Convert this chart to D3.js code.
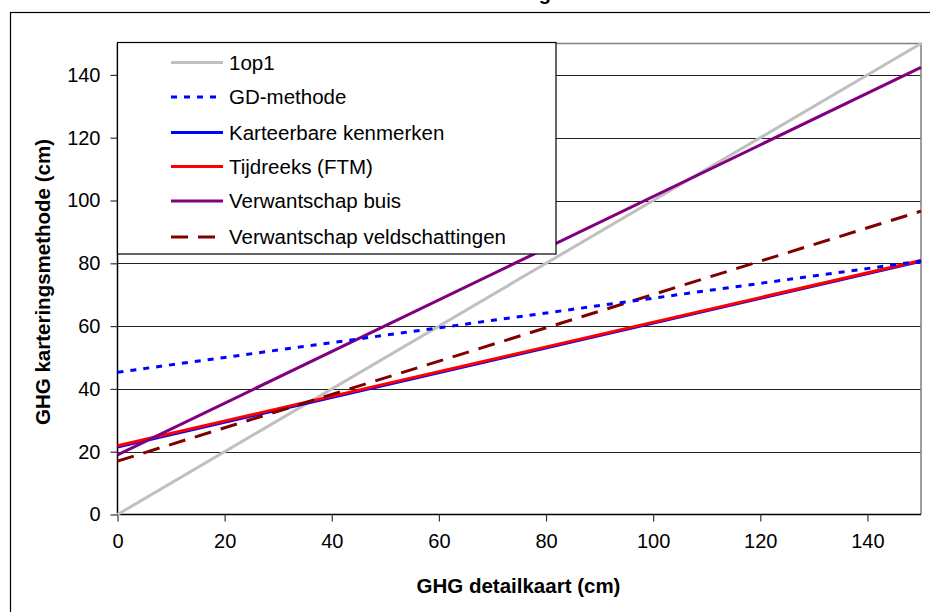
<!DOCTYPE html>
<html>
<head>
<meta charset="utf-8">
<script src="https://cdn.jsdelivr.net/npm/d3@7"></script>
<style>
  html, body { margin: 0; padding: 0; background: #fff; }
  svg { display: block; font-family: Arial, "Liberation Sans", sans-serif; }
</style>
</head>
<body>
<svg id="chart" width="930" height="612"></svg>
<script>
// Series: start and end points (GHG detailkaart, GHG karteringsmethode) in cm
const seriesNames = ["1op1", "GD-methode", "Karteerbare kenmerken", "Tijdreeks (FTM)", "Verwantschap buis", "Verwantschap veldschattingen"];
const seriesX = [0, 150];
const oneToOne = [0, 150];
const gdMethode = [45.3, 80.7];
const karteerbare = [21.4, 80.6];
const tijdreeks = [21.9, 80.9];
const verwantschapBuis = [19.0, 142.4];
const verwantschapVeld = [17.0, 96.6];
const xTicks = [0, 20, 40, 60, 80, 100, 120, 140];
const yTicks = [0, 20, 40, 60, 80, 100, 120, 140];

const styles = [
  { color: "#C0C0C0", dash: null },
  { color: "#0000FF", dash: "6,7" },
  { color: "#0000FF", dash: null },
  { color: "#FF0000", dash: null },
  { color: "#800080", dash: null },
  { color: "#800000", dash: "17,10" }
];
const seriesValues = [oneToOne, gdMethode, karteerbare, tijdreeks, verwantschapBuis, verwantschapVeld];

const svg = d3.select("#chart");
const plot = { left: 117.5, top: 43.5, right: 921, bottom: 514.5 };

const x = d3.scaleLinear().domain([0, 150]).range([plot.left, plot.right]);
const y = d3.scaleLinear().domain([0, 150]).range([plot.bottom, plot.top]);

// Outer chart frame (runs off the page on the right and bottom)
svg.append("rect")
  .attr("x", 10.5).attr("y", 12.5)
  .attr("width", 940).attr("height", 620)
  .attr("fill", "none").attr("stroke", "#000").attr("stroke-width", 1.2);

// Title, sitting above the top edge of the page
svg.append("text")
  .attr("x", 551).attr("y", -0.5)
  .attr("text-anchor", "end")
  .attr("font-weight", "bold").attr("font-size", 20)
  .text("GHG-schatting");

// Horizontal gridlines
svg.append("g")
  .selectAll("line")
  .data(yTicks.filter(d => d > 0))
  .join("line")
  .attr("x1", plot.left).attr("x2", plot.right)
  .attr("y1", d => Math.round(y(d)) + 0.5).attr("y2", d => Math.round(y(d)) + 0.5)
  .attr("stroke", "#222").attr("stroke-width", 1);

// Plot area border (top and right)
svg.append("path")
  .attr("d", `M${plot.left},${plot.top}H${plot.right}V${plot.bottom}`)
  .attr("fill", "none").attr("stroke", "#808080").attr("stroke-width", 1.5);

// Axes
const yAxis = d3.axisLeft(y).tickValues(yTicks).tickSize(7).tickPadding(10).tickFormat(d3.format("d"));
const xAxis = d3.axisBottom(x).tickValues(xTicks).tickSize(7).tickPadding(12).tickFormat(d3.format("d"));

const gy = svg.append("g").attr("transform", `translate(${plot.left},0)`).call(yAxis);
const gx = svg.append("g").attr("transform", `translate(0,${plot.bottom})`).call(xAxis);
[gx, gy].forEach(g => {
  g.select(".domain").attr("stroke", "#000").attr("stroke-width", 1.5);
  g.selectAll(".tick line").attr("stroke", "#333").attr("stroke-width", 1.2);
  g.selectAll(".tick text").attr("font-size", 20).attr("fill", "#000")
    .attr("font-family", "Arial, 'Liberation Sans', sans-serif");
});
gy.select(".domain").attr("d", `M0,${plot.top}V${plot.bottom}`);
gx.select(".domain").attr("d", `M${plot.left},0H${plot.right}`);

// Series lines
const line = d3.line().x(d => x(d[0])).y(d => y(d[1]));
const order = [0, 2, 3, 4, 5, 1];
svg.append("g")
  .selectAll("path")
  .data(order)
  .join("path")
  .attr("d", i => line(seriesX.map((xv, k) => [xv, seriesValues[i][k]])))
  .attr("fill", "none")
  .attr("stroke", i => styles[i].color)
  .attr("stroke-width", i => i === 2 ? 2.6 : 3)
  .attr("stroke-dasharray", i => styles[i].dash);

// Axis titles
svg.append("text")
  .attr("x", 518.5).attr("y", 593)
  .attr("text-anchor", "middle")
  .attr("font-weight", "bold").attr("font-size", 20.5)
  .text("GHG detailkaart (cm)");

svg.append("text")
  .attr("transform", `translate(50,${(plot.top + plot.bottom) / 2 + 3}) rotate(-90)`)
  .attr("text-anchor", "middle")
  .attr("font-weight", "bold").attr("font-size", 20.5)
  .text("GHG karteringsmethode (cm)");

// Legend
const legend = svg.append("g");
legend.append("rect")
  .attr("x", 117.5).attr("y", 42.5)
  .attr("width", 438.5).attr("height", 211.5)
  .attr("fill", "#fff").attr("stroke", "#000").attr("stroke-width", 1.2);

const legendY = [62.5, 97, 132.5, 166.5, 201, 237];
const items = legend.selectAll("g.item")
  .data(seriesNames)
  .join("g")
  .attr("class", "item")
  .attr("transform", (d, i) => `translate(0,${legendY[i]})`);

items.append("line")
  .attr("x1", 171).attr("x2", 223)
  .attr("y1", 0).attr("y2", 0)
  .attr("stroke", (d, i) => styles[i].color)
  .attr("stroke-width", 3)
  .attr("stroke-dasharray", (d, i) => styles[i].dash);

items.append("text")
  .attr("x", 229).attr("y", 0)
  .attr("dy", "0.36em")
  .attr("font-size", 20.5)
  .attr("fill", "#000")
  .text(d => d);
</script>
</body>
</html>
